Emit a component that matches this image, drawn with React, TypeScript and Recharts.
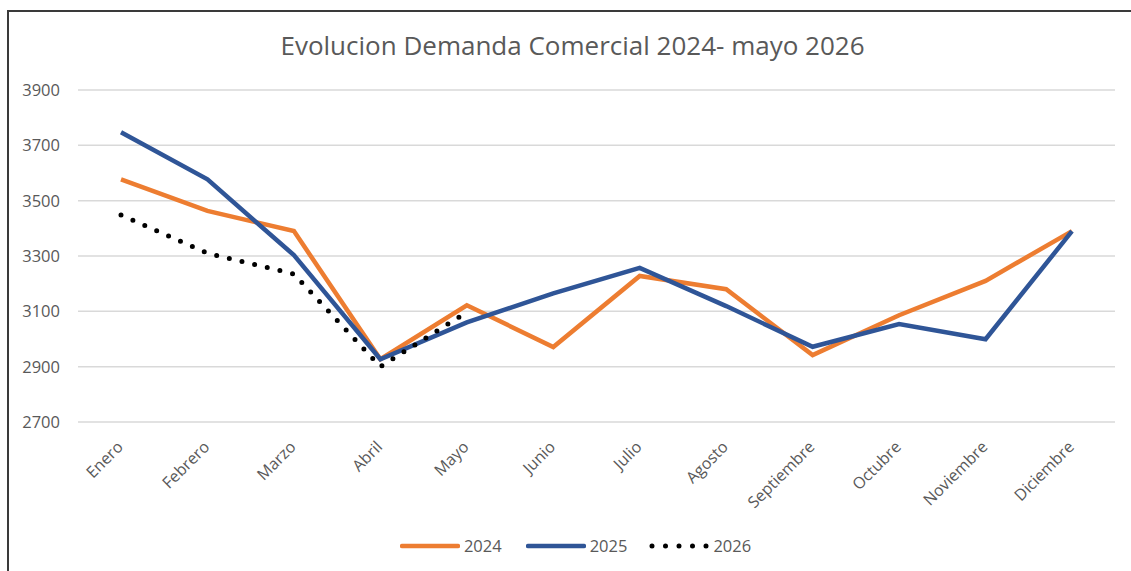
import { LineChart, Line, XAxis, YAxis, CartesianGrid, Legend } from "recharts";

// ─── Data ────────────────────────────────────────────────────────────────────
const months = [
  "Enero",
  "Febrero",
  "Marzo",
  "Abril",
  "Mayo",
  "Junio",
  "Julio",
  "Agosto",
  "Septiembre",
  "Octubre",
  "Noviembre",
  "Diciembre",
];

const demanda2024 = [3577, 3463, 3390, 2927, 3122, 2971, 3228, 3180, 2942, 3086, 3210, 3390];
const demanda2025 = [3747, 3577, 3303, 2927, 3060, 3165, 3257, 3119, 2972, 3054, 2999, 3390];
const demanda2026 = [3448, 3310, 3235, 2900, 3097];

const yTicks = [2700, 2900, 3100, 3300, 3500, 3700, 3900];

const ORANGE = "#ED7D31";
const BLUE = "#2F5597";
const TEXT = "#595959";
const FONT = "'Open Sans', 'Noto Sans', sans-serif";

const data = months.map((mes, i) => ({
  mes,
  y2024: demanda2024[i],
  y2025: demanda2025[i],
  y2026: demanda2026[i] ?? null,
}));

// ─── Rotated month labels ────────────────────────────────────────────────────
function MonthTick({ x, y, payload }: any) {
  const ax = x + 3;
  const ay = y + 26;
  return (
    <text
      x={ax}
      y={ay}
      transform={`rotate(-45 ${ax} ${ay})`}
      textAnchor="end"
      fill={TEXT}
      fontSize={16}
      fontFamily={FONT}
    >
      {payload.value}
    </text>
  );
}

// ─── Legend ──────────────────────────────────────────────────────────────────
function ChartLegend() {
  const items = [
    { label: "2024", color: ORANGE, dotted: false, gapAfter: 24 },
    { label: "2025", color: BLUE, dotted: false, gapAfter: 22 },
    { label: "2026", color: "#000", dotted: true, gapAfter: 0 },
  ];
  return (
    <div style={{ display: "flex", justifyContent: "center", alignItems: "center", fontFamily: FONT }}>
      {items.map((it) => (
        <div key={it.label} style={{ display: "flex", alignItems: "center", marginRight: it.gapAfter }}>
          <svg width={60} height={10} style={{ marginRight: 4 }}>
            {it.dotted ? (
              <line x1={3} y1={5} x2={58} y2={5} stroke="#000" strokeWidth={5} strokeLinecap="round" strokeDasharray="0 13.5" />
            ) : (
              <line x1={2} y1={5} x2={58} y2={5} stroke={it.color} strokeWidth={4.5} strokeLinecap="round" />
            )}
          </svg>
          <span style={{ color: TEXT, fontSize: 16.5 }}>{it.label}</span>
        </div>
      ))}
    </div>
  );
}

// ─── Main ────────────────────────────────────────────────────────────────────
export default function App() {
  return (
    <div
      style={{
        position: "absolute",
        left: 0,
        top: 0,
        width: 1131,
        height: 571,
        overflow: "hidden",
        background: "#fff",
      }}
    >
      {/* chart frame (runs off the right and bottom edges) */}
      <div
        style={{
          position: "absolute",
          left: 7,
          top: 10,
          width: 1200,
          height: 700,
          border: "2px solid #3a3a3a",
        }}
      />

      <div
        style={{
          position: "absolute",
          left: 7,
          top: 30,
          width: 1131,
          height: 30,
          lineHeight: "30px",
          textAlign: "center",
          fontFamily: FONT,
          fontSize: 26,
          color: TEXT,
        }}
      >
        Evolucion Demanda Comercial 2024- mayo 2026
      </div>

      <div style={{ position: "absolute", left: 0, top: 0 }}>
        <LineChart width={1131} height={571} data={data} margin={{ top: 90, right: 16, left: 0, bottom: 119 }}>
          <CartesianGrid vertical={false} stroke="#D9D9D9" strokeWidth={1.5} />
          <XAxis
            dataKey="mes"
            height={30}
            axisLine={false}
            tickLine={false}
            tickSize={0}
            tickMargin={0}
            interval={0}
            padding={{ left: 43, right: 43 }}
            tick={<MonthTick />}
          />
          <YAxis
            width={78}
            domain={[2700, 3900]}
            ticks={yTicks}
            axisLine={false}
            tickLine={false}
            tickSize={0}
            tickMargin={18}
            tick={{ fill: TEXT, fontSize: 16.5, fontFamily: FONT }}
          />
          <Legend
            verticalAlign="middle"
            align="center"
            wrapperStyle={{ top: 534, left: 10, width: 1131 }}
            content={<ChartLegend />}
          />
          <Line
            type="linear"
            dataKey="y2024"
            stroke={ORANGE}
            strokeWidth={4.5}
            dot={false}
            isAnimationActive={false}
          />
          <Line
            type="linear"
            dataKey="y2025"
            stroke={BLUE}
            strokeWidth={4.5}
            dot={false}
            isAnimationActive={false}
          />
          <Line
            type="linear"
            dataKey="y2026"
            stroke="#000"
            strokeWidth={5}
            strokeLinecap="round"
            strokeDasharray="0 13"
            dot={false}
            isAnimationActive={false}
          />
        </LineChart>
      </div>
    </div>
  );
}
